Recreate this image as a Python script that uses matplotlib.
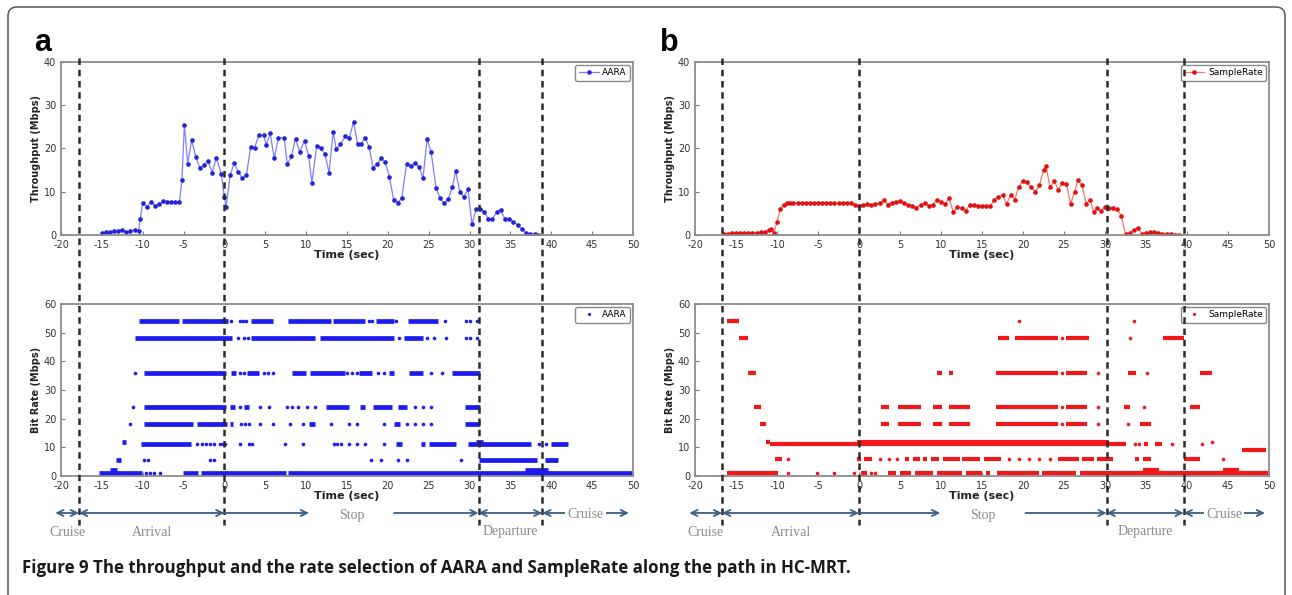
import matplotlib
matplotlib.use("Agg")
import matplotlib.pyplot as plt
from matplotlib.lines import Line2D
from matplotlib.patches import FancyBboxPatch

plt.rcParams["axes.unicode_minus"] = False

# ---- throughput (Mbps) vs time (sec) ----
aara_t = [-15.0, -14.5, -14.0, -13.5, -13.0, -12.5, -12.0, -11.5, -11.0, -10.5,
          -10.3, -10.0, -9.5, -9.0, -8.5, -8.0, -7.5, -7.0, -6.5, -6.0,
          -5.5, -5.2, -4.9, -4.5, -4.0, -3.5, -3.0, -2.5, -2.0, -1.5,
          -1.0, -0.4, 0.0, 0.2, 0.7, 1.2, 1.7, 2.2, 2.7, 3.2,
          3.7, 4.2, 4.8, 5.1, 5.6, 6.1, 6.6, 7.3, 7.7, 8.2,
          8.7, 9.2, 9.8, 10.3, 10.7, 11.3, 11.8, 12.3, 12.8, 13.3,
          13.7, 14.2, 14.8, 15.3, 15.8, 16.3, 16.7, 17.2, 17.7, 18.2,
          18.7, 19.2, 19.7, 20.2, 20.7, 21.2, 21.7, 22.3, 22.8, 23.3,
          23.8, 24.3, 24.8, 25.3, 25.9, 26.4, 26.9, 27.4, 27.9, 28.3,
          28.8, 29.3, 29.8, 30.3, 30.8, 31.3, 31.8, 32.3, 32.8, 33.3,
          33.8, 34.3, 34.8, 35.3, 35.9, 36.4, 36.9, 37.4, 38.0, 38.4]
aara_tp = [0.5, 0.6, 0.8, 0.9, 1.0, 1.2, 0.7, 1.0, 1.2, 1.0,
           3.8, 7.3, 6.5, 7.7, 6.8, 7.1, 7.8, 7.7, 7.7, 7.7,
           7.7, 12.7, 25.5, 16.5, 21.9, 18.0, 15.4, 16.3, 17.1, 14.4,
           17.9, 14.2, 8.8, 6.5, 13.8, 16.7, 14.6, 13.1, 13.8, 20.4,
           20.2, 23.1, 23.1, 20.8, 23.5, 17.7, 22.5, 22.5, 16.4, 18.2,
           22.3, 19.2, 21.8, 18.3, 12.1, 20.6, 20.0, 18.7, 14.4, 23.8,
           19.8, 21.0, 22.8, 22.5, 26.2, 21.0, 21.0, 22.5, 20.4, 15.6,
           16.4, 17.7, 16.8, 13.3, 8.2, 7.5, 8.5, 16.5, 16.0, 16.7,
           15.8, 13.1, 22.1, 19.1, 10.8, 8.6, 7.3, 8.3, 11.2, 14.8,
           10.0, 8.8, 10.6, 2.5, 6.0, 6.0, 5.4, 3.6, 3.6, 5.4,
           5.8, 3.8, 3.8, 3.1, 2.3, 1.3, 0.5, 0.2, 0.2, 0.0]

sr_t = [-16.5, -16.0, -15.5, -15.0, -14.5, -14.0, -13.5, -13.0, -12.5, -12.0,
        -11.5, -11.0, -10.7, -10.4, -10.0, -9.6, -9.2, -8.8, -8.4, -8.0,
        -7.5, -7.0, -6.5, -6.0, -5.5, -5.0, -4.5, -4.0, -3.5, -3.0,
        -2.5, -2.0, -1.5, -1.0, -0.5, 0.0, 0.5, 1.0, 1.5, 2.0,
        2.5, 3.0, 3.5, 4.0, 4.5, 5.0, 5.5, 6.0, 6.5, 7.0,
        7.5, 8.0, 8.5, 9.0, 9.5, 10.0, 10.5, 11.0, 11.5, 12.0,
        12.5, 13.0, 13.5, 14.0, 14.5, 15.0, 15.5, 16.0, 16.5, 17.0,
        17.5, 18.0, 18.5, 19.0, 19.5, 20.0, 20.5, 21.0, 21.5, 22.0,
        22.5, 22.8, 23.3, 23.8, 24.3, 24.8, 25.3, 25.8, 26.3, 26.7,
        27.2, 27.7, 28.2, 28.6, 29.0, 29.5, 30.0, 30.5, 31.0, 31.5,
        32.0, 32.5, 33.0, 33.5, 34.0, 34.5, 35.0, 35.5, 36.0, 36.5,
        37.0, 37.5, 38.0, 38.5, 39.0]
sr_tp = [0.3, 0.3, 0.4, 0.4, 0.4, 0.4, 0.4, 0.5, 0.5, 0.6,
         0.6, 1.2, 1.4, 0.5, 3.0, 6.0, 7.0, 7.3, 7.4, 7.4,
         7.5, 7.4, 7.4, 7.5, 7.4, 7.5, 7.5, 7.4, 7.5, 7.3,
         7.4, 7.5, 7.4, 7.3, 7.0, 6.7, 7.0, 7.1, 7.0, 7.2,
         7.4, 8.1, 7.0, 7.5, 7.7, 7.8, 7.3, 7.0, 6.8, 6.3,
         7.0, 7.3, 6.8, 7.0, 8.2, 7.6, 7.2, 8.5, 5.3, 6.5,
         6.2, 5.6, 7.0, 6.9, 6.8, 6.6, 6.6, 6.6, 8.2, 8.8,
         9.2, 7.2, 9.3, 8.2, 11.2, 12.5, 12.3, 11.0, 10.0, 11.5,
         15.0, 16.0, 11.0, 12.5, 10.5, 12.0, 11.8, 7.2, 10.0, 12.8,
         11.5, 7.2, 8.2, 5.3, 6.3, 5.5, 6.5, 6.2, 6.3, 6.0,
         4.3, 0.2, 0.5, 1.2, 1.6, 0.3, 0.5, 0.6, 0.6, 0.5,
         0.3, 0.3, 0.2, 0.1, 0.1]

# ---- selected bit rate: runs (start, end) and single picks per rate level ----
aara_levels = [54, 48, 36, 24, 18, 12, 11, 5.5, 2, 1]
aara_runs = [
    [(-10.5, -5.5), (-5.2, 0.4), (3.3, 6.0), (7.8, 13.0), (13.3, 17.2), (18.5, 20.7), (22.5, 26.1)],
    [(-11.0, 0.9), (3.2, 11.1), (11.7, 20.7), (22.0, 24.3)],
    [(-9.9, 0.2), (0.8, 1.4), (2.8, 4.2), (8.3, 10.0), (10.5, 14.8), (16.5, 18.0), (20.2, 20.8),
     (22.6, 24.3), (27.8, 31.3)],
    [(-9.9, 0.2), (0.7, 1.3), (2.4, 3.0), (12.4, 15.2), (16.6, 17.2), (18.2, 20.5), (21.2, 22.3), (29.5, 31.3)],
    [(-9.9, -3.8), (-3.4, 0.3), (0.7, 1.0), (10.3, 11.1), (20.7, 21.5), (29.5, 31.3)],
    [(-12.5, -12.1), (30.8, 31.6)],
    [(-10.2, -4.1), (21.0, 21.7), (24.0, 24.5), (25.0, 28.3), (29.8, 37.5), (40.0, 42.0)],
    [(-13.3, -12.6), (31.1, 38.3), (39.2, 40.8)],
    [(-14.0, -13.2), (36.8, 39.6)],
    [(-15.3, -10.1), (-5.1, -3.2), (-2.9, 7.5), (7.8, 50.0)],
]
aara_dots = [
    [0.8, 1.9, 2.3, 2.7, 17.7, 18.1, 21.0, 27.0, 29.6, 30.1, 30.9],
    [1.7, 2.4, 2.9, 21.4, 24.8, 25.6, 27.1, 29.6, 30.1, 30.9],
    [-10.9, 1.9, 2.4, 4.8, 5.3, 5.9, 15.0, 15.6, 16.2, 18.8, 19.5, 25.3, 26.6],
    [-11.2, 1.9, 4.3, 5.5, 7.6, 8.3, 9.0, 10.1, 11.1, 23.3, 24.3, 25.3],
    [-11.6, 2.0, 2.5, 3.0, 4.3, 6.0, 8.0, 9.6, 13.1, 15.2, 16.2, 19.5, 22.3, 23.3, 24.3, 25.3],
    [],
    [-3.4, -2.8, -2.3, -1.8, -1.3, -0.6, -0.2, 0.1, 1.9, 3.0, 3.4, 7.4, 9.6,
     13.4, 13.8, 14.3, 15.2, 16.2, 17.2, 19.5, 38.5, 39.3],
    [-9.9, -9.3, -1.8, -1.3, 17.9, 19.2, 21.2, 22.3, 28.9],
    [],
    [-9.6, -9.1, -8.6, -7.9],
]

sr_levels = [54, 48, 36, 24, 18, 12, 11, 9, 6, 2, 1]
sr_runs = [
    [(-16.1, -14.6)],
    [(-14.6, -13.5), (17.0, 18.3), (19.0, 24.3), (25.3, 28.0), (37.1, 39.6)],
    [(-13.5, -12.6), (9.5, 10.1), (11.0, 11.5), (16.7, 24.3), (25.3, 27.8), (32.8, 33.8), (41.6, 43.1)],
    [(-12.8, -12.0), (2.7, 3.7), (4.7, 7.5), (9.0, 10.1), (11.0, 13.5), (16.7, 24.3), (25.3, 27.8),
     (32.3, 33.1), (40.4, 41.6)],
    [(-12.1, -11.4), (2.7, 3.7), (4.7, 7.5), (9.0, 10.1), (11.0, 13.5), (16.7, 24.3), (25.3, 27.8),
     (34.3, 35.6)],
    [(-11.4, -10.9), (-0.3, 30.5)],
    [(-10.9, 31.3), (31.3, 32.6), (34.8, 35.3), (36.1, 36.9)],
    [(46.7, 49.6)],
    [(-10.3, -9.4), (-0.3, 0.3), (0.6, 1.6), (5.6, 6.1), (6.6, 7.4), (7.8, 8.3), (8.8, 9.8), (10.2, 12.3),
     (12.6, 14.8), (15.3, 17.3), (24.3, 26.8), (27.2, 28.6), (29.0, 31.0), (33.6, 34.1), (34.6, 35.6),
     (39.6, 41.6)],
    [(34.6, 36.6), (44.4, 46.4)],
    [(-16.1, -9.9), (0.2, 1.0), (3.5, 4.5), (5.0, 6.3), (6.8, 9.0), (9.5, 12.5), (13.0, 15.0),
     (15.5, 16.0), (16.8, 22.0), (22.3, 26.5), (27.0, 50.0)],
]
sr_dots = [
    [19.5, 33.5],
    [24.8, 33.1],
    [24.8, 29.1, 35.1],
    [24.8, 29.1, 34.8],
    [24.8, 29.1, 32.8],
    [43.1],
    [33.6, 34.1, 38.2, 41.8],
    [],
    [-8.6, 2.6, 3.6, 4.6, 18.3, 19.5, 20.7, 22.0, 23.3, 44.4],
    [],
    [-8.6, -5.1, -3.1, -0.6, 1.5, 2.0],
]

# ---- phase boundaries (sec) and phase names ----
aara_events = [-17.8, 0.0, 31.1, 38.9]
sr_events = [-16.7, 0.0, 30.2, 39.6]
phases = ["Cruise", "Arrival", "Stop", "Departure", "Cruise"]

W, H = 1292, 595
fig = plt.figure(figsize=(W / 100, H / 100), dpi=100)

# background canvas in pixel units (border, panel letters, caption)
bg = fig.add_axes([0, 0, 1, 1], zorder=0)
bg.set_xlim(0, W)
bg.set_ylim(H, 0)
bg.axis("off")
bg.add_patch(FancyBboxPatch((8, 7), 1277, 620, boxstyle="round,pad=0,rounding_size=9",
                            fc="white", ec="#555555", lw=1.1))
bg.text(34, 51, "a", fontsize=22, fontweight="bold", family="Liberation Sans")
bg.text(660, 51, "b", fontsize=22, fontweight="bold", family="Liberation Sans")
bg.text(22, 568, "Figure 9 The throughput and the rate selection of AARA and SampleRate along the path in HC-MRT.",
        fontsize=12.2, fontweight="bold", family="Open Sans", va="center", color="#1a1a1a")


def rect(x0, x1, y0, y1):
    return [x0 / W, 1 - y1 / H, (x1 - x0) / W, (y1 - y0) / H]


def style(ax, ymax, ylabel):
    ax.set_xlim(-20, 50)
    ax.set_ylim(0, ymax)
    ax.set_xticks(range(-20, 51, 5))
    ax.set_yticks(range(0, ymax + 1, 10))
    ax.tick_params(direction="in", length=3, width=0.8, color="#777777", labelsize=7,
                   labelcolor="#333333")
    ax.tick_params(axis="x", pad=3.5)
    ax.tick_params(axis="y", pad=3.5)
    for s in ax.spines.values():
        s.set_color("#8c8c8c")
        s.set_linewidth(1.3)
    ax.set_xlabel("Time (sec)", fontsize=8, fontweight="bold", labelpad=0, color="#222222")
    ax.set_ylabel(ylabel, fontsize=7, fontweight="bold", labelpad=2, color="#222222")


def draw_rates(ax, levels, runs, dots, color, lw):
    for lvl, r, d in zip(levels, runs, dots):
        if r:
            ax.hlines([lvl] * len(r), [a for a, b in r], [b for a, b in r], colors=color, lw=lw)
        if d:
            ax.plot(d, [lvl] * len(d), ls="none", marker="o", ms=2.6, mew=0, color=color)


def legend(ax, handle, label):
    ax.legend([handle], [label], loc="upper right", fontsize=6.5, frameon=True, fancybox=True,
              edgecolor="#888888", framealpha=1, borderpad=0.4, borderaxespad=0.3,
              handlelength=2.2, handletextpad=0.4, numpoints=1)


def phase_bar(x0, x1, events, right_end):
    ov = fig.add_axes(rect(x0, x1, 0, H), zorder=5)
    ov.set_xlim(-20, 50)
    ov.set_ylim(H, 0)
    ov.axis("off")
    ov.vlines(events, 58, 525, colors="#2b2b2b", linestyles=(0, (2.6, 1.9)), lw=1.8)
    bounds = [-20.7] + list(events) + [right_end]
    y_bar, y_lab = 513, 532
    head = "head_length=0.45,head_width=0.22"
    arrow = dict(arrowstyle="<->," + head, color="#3f5c85", lw=1.3, shrinkA=0, shrinkB=0)
    lab = dict(ha="center", va="center", fontsize=10, family="Liberation Serif", color="#8a8a8a")
    for i, name in enumerate(phases):
        a, b = bounds[i], bounds[i + 1]
        mid = (a + b) / 2
        if name == "Stop":
            gap = 5.2
            ov.annotate("", xy=(a, y_bar), xytext=(mid - gap, y_bar), annotation_clip=False,
                        arrowprops=dict(arrow, arrowstyle="<-," + head))
            ov.annotate("", xy=(mid + gap, y_bar), xytext=(b, y_bar), annotation_clip=False,
                        arrowprops=dict(arrow, arrowstyle="<-," + head))
            ov.text(mid, y_bar + 2, name, **lab)
        else:
            ov.annotate("", xy=(a, y_bar), xytext=(b, y_bar), annotation_clip=False, arrowprops=arrow)
            if i == len(phases) - 1:
                ov.text(mid, y_bar + 1, name, bbox=dict(fc="white", ec="none", pad=1.5), **lab)
            else:
                ov.text(mid, y_lab, name, **lab)


panels = [
    (61, 633, aara_t, aara_tp, "AARA", "#7f7fff", "#2323d6", "#1c1cf0",
     aara_levels, aara_runs, aara_dots, aara_events, 3.4),
    (695, 1269, sr_t, sr_tp, "SampleRate", "#ff7070", "#e01010", "#f01818",
     sr_levels, sr_runs, sr_dots, sr_events, 3.0),
]

for x0, x1, t, tp, name, lc, mc, rc, levels, runs, dots, events, blw in panels:
    ax1 = fig.add_axes(rect(x0, x1, 62, 235), zorder=2)
    ax1.plot(t, tp, "-", color=lc, lw=0.9, marker="o", ms=2.3, mfc=mc, mec=mc)
    style(ax1, 40, "Throughput (Mbps)")
    legend(ax1, Line2D([], [], color=lc, lw=0.9, marker="o", ms=2.3, mfc=mc, mec=mc), name)

    ax2 = fig.add_axes(rect(x0, x1, 304, 476), zorder=2)
    draw_rates(ax2, levels, runs, dots, rc, blw)
    style(ax2, 60, "Bit Rate (Mbps)")
    legend(ax2, Line2D([], [], ls="none", marker="o", ms=2.3, mew=0, color=rc), name)

    phase_bar(x0, x1, events, 49.5)

fig.savefig("out.png", dpi=100)
